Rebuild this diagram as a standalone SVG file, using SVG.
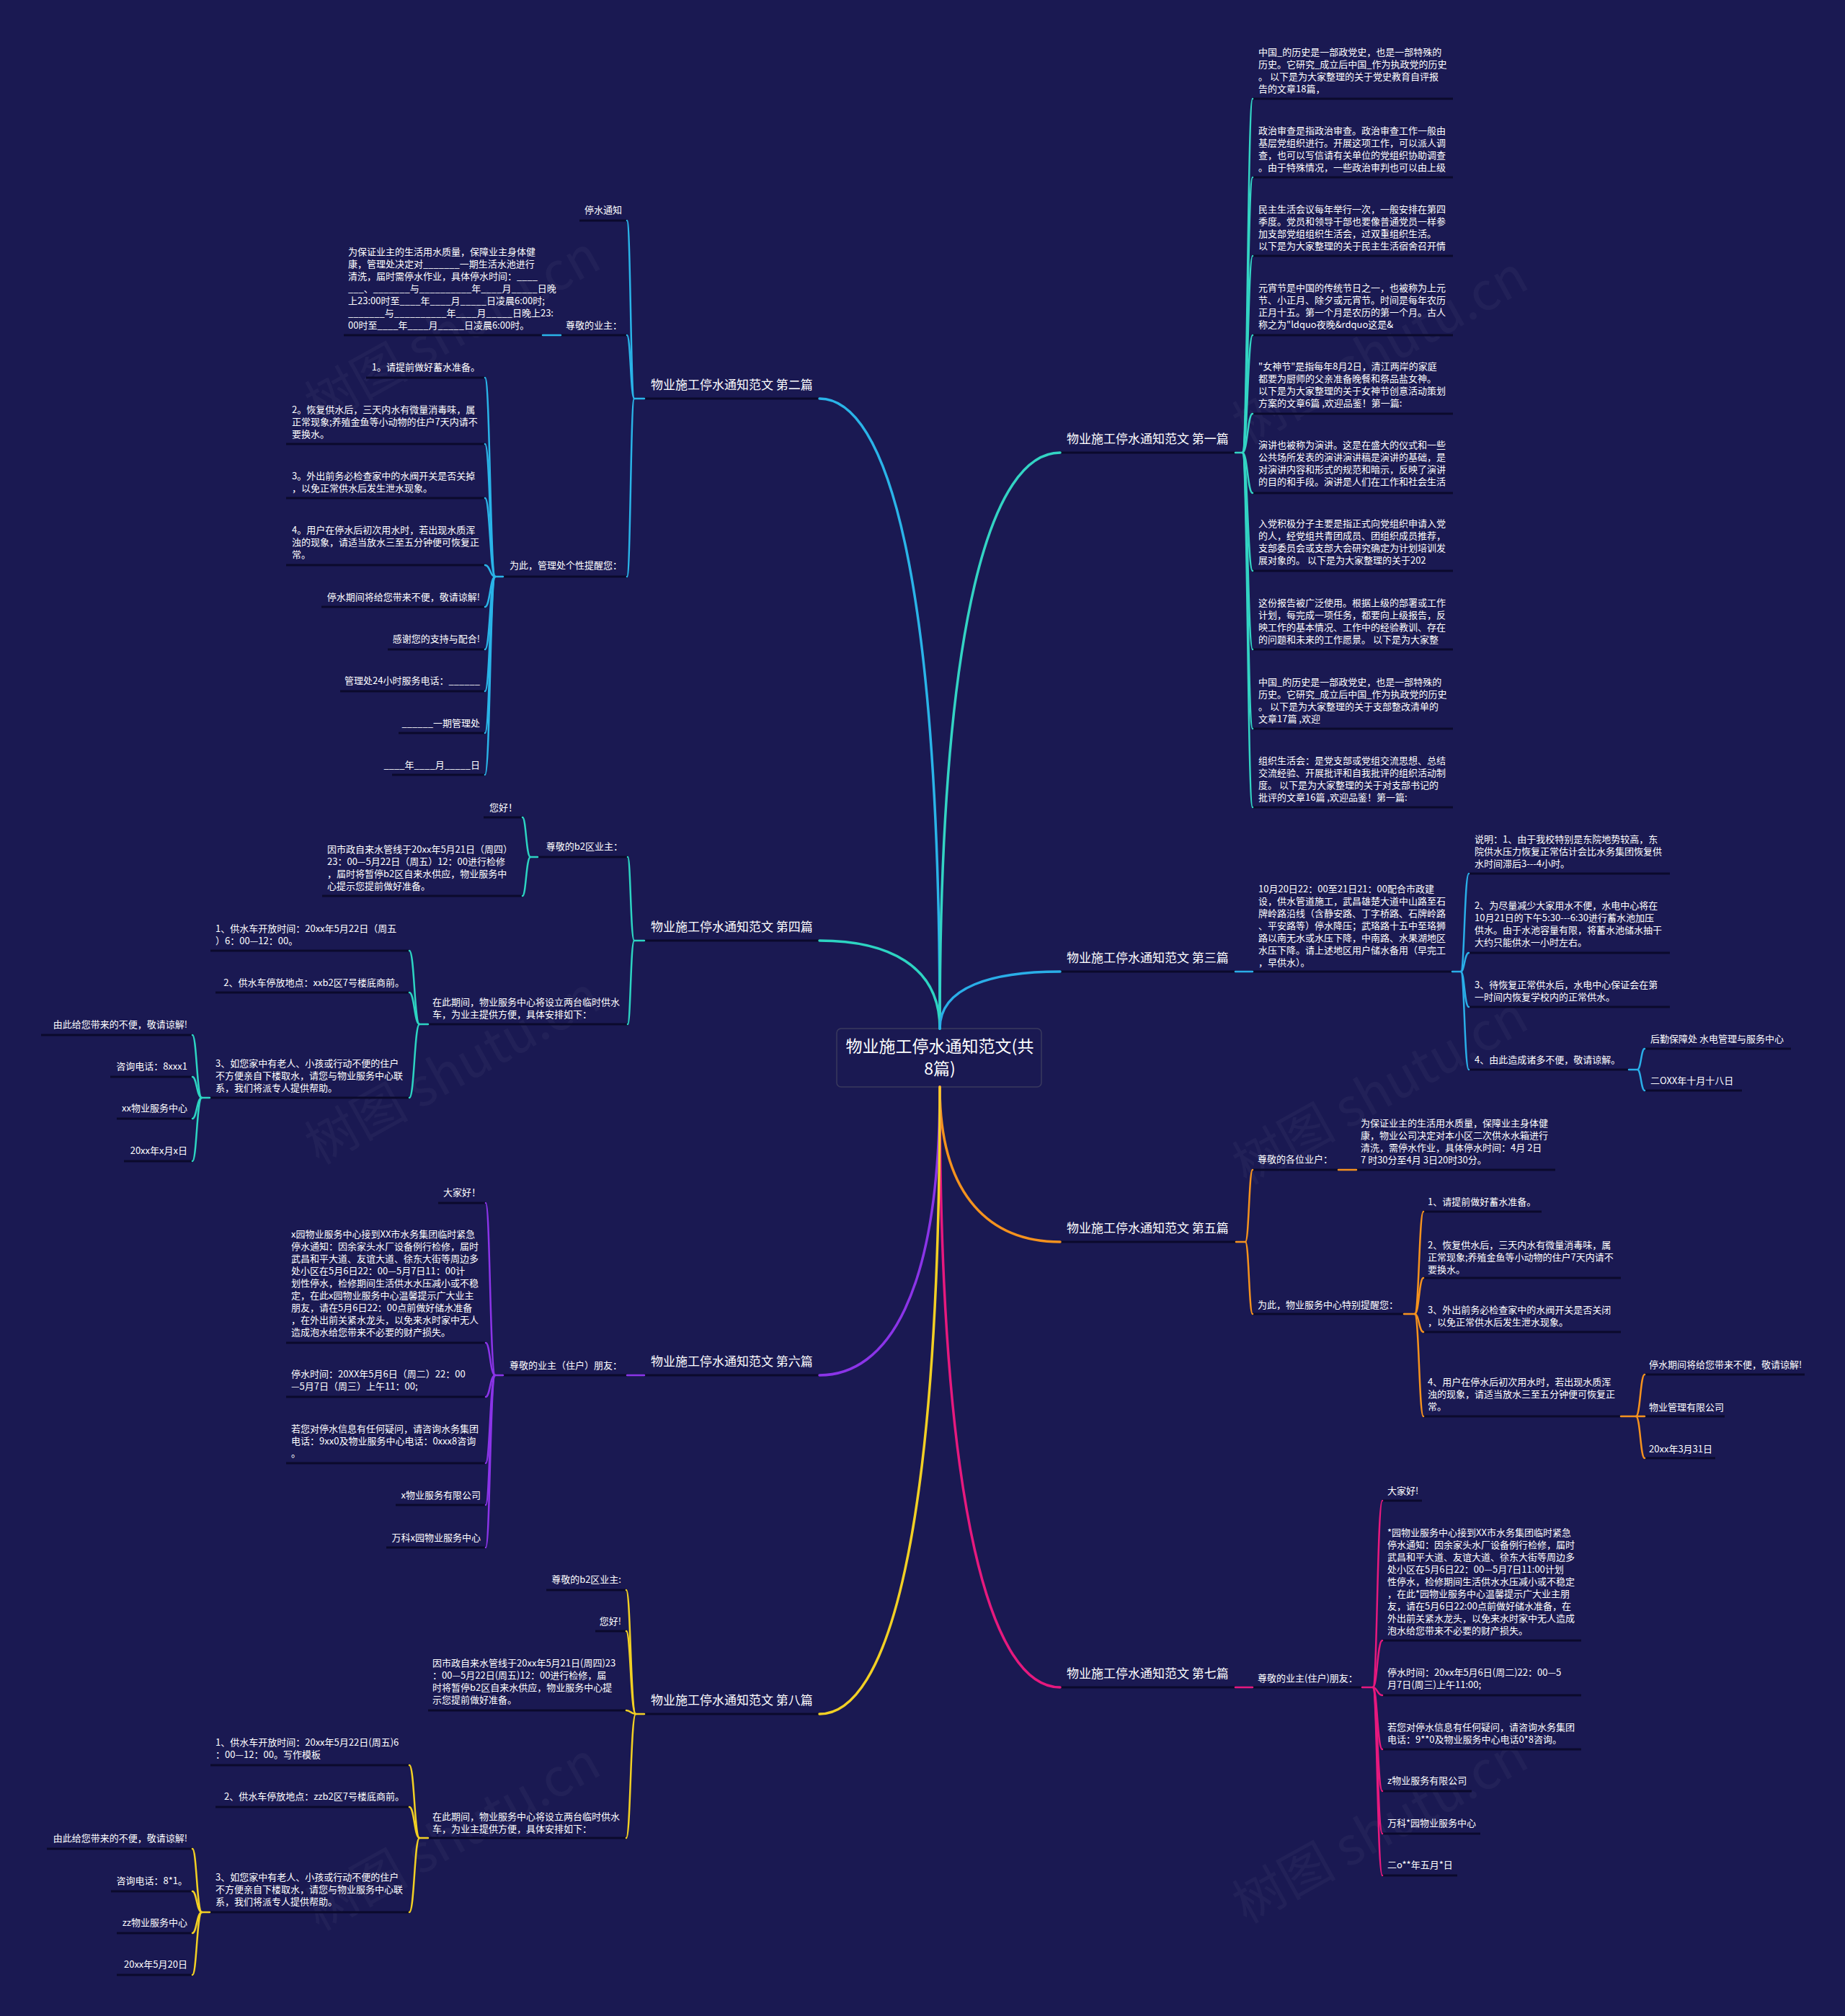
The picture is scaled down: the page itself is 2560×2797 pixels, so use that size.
<svg xmlns="http://www.w3.org/2000/svg" width="2560" height="2797" viewBox="0 0 2560 2797">
<style>
.t{font-family:"Noto Sans CJK SC","Noto Sans",sans-serif;font-size:13px;fill:#ffffff}
.e{text-anchor:end}
.b{font-size:17px}
.r{font-size:23px;text-anchor:middle}
.ul{stroke:#0b0a2c;stroke-width:3;fill:none}
.c{fill:none;stroke-width:2.5;stroke-linecap:round}
.m{stroke-width:3.5}
.wm{font-family:"Noto Sans CJK SC","Noto Sans",sans-serif;font-size:72px;fill:#ffffff;opacity:0.035}
.c1{stroke:#33d4c4}.c2{stroke:#2ab4e8}.c3{stroke:#2aaee8}.c4{stroke:#2dd4c2}
.c5{stroke:#f5921e}.c6{stroke:#8b34e8}.c7{stroke:#e6197e}.c8{stroke:#f2d024}
</style>
<rect width="2560" height="2797" fill="#1a1952"/>
<g id="watermarks">
<text class="wm" transform="translate(640,480) rotate(-29)" text-anchor="middle">树图 shutu.cn</text>
<text class="wm" transform="translate(1927,508) rotate(-29)" text-anchor="middle">树图 shutu.cn</text>
<text class="wm" transform="translate(640,1507) rotate(-29)" text-anchor="middle">树图 shutu.cn</text>
<text class="wm" transform="translate(1927,1535) rotate(-29)" text-anchor="middle">树图 shutu.cn</text>
<text class="wm" transform="translate(640,2570) rotate(-29)" text-anchor="middle">树图 shutu.cn</text>
<text class="wm" transform="translate(1927,2560) rotate(-29)" text-anchor="middle">树图 shutu.cn</text>
</g>

<g id="root">
<rect x="1161" y="1427" width="284" height="81" rx="6" fill="#1a1952" stroke="#3a3a5e" stroke-width="1.5"/>
<text class="t r" x="1304" y="1460">物业施工停水通知范文(共</text>
<text class="t r" x="1304" y="1491">8篇)</text>
</g>

<!-- Branch labels -->
<g id="b1"><line class="ul" x1="1471" y1="628" x2="1714" y2="628"/><text class="t b" x="1480" y="615">物业施工停水通知范文 第一篇</text></g>
<g id="b2"><line class="ul" x1="894" y1="553" x2="1137" y2="553"/><text class="t b" x="903" y="540">物业施工停水通知范文 第二篇</text></g>
<g id="b3"><line class="ul" x1="1471" y1="1348" x2="1714" y2="1348"/><text class="t b" x="1480" y="1335">物业施工停水通知范文 第三篇</text></g>
<g id="b4"><line class="ul" x1="894" y1="1305" x2="1137" y2="1305"/><text class="t b" x="903" y="1292">物业施工停水通知范文 第四篇</text></g>
<g id="b5"><line class="ul" x1="1471" y1="1723" x2="1715" y2="1723"/><text class="t b" x="1480" y="1710">物业施工停水通知范文 第五篇</text></g>
<g id="b6"><line class="ul" x1="894" y1="1908" x2="1137" y2="1908"/><text class="t b" x="903" y="1895">物业施工停水通知范文 第六篇</text></g>
<g id="b7"><line class="ul" x1="1471" y1="2341" x2="1714" y2="2341"/><text class="t b" x="1480" y="2328">物业施工停水通知范文 第七篇</text></g>
<g id="b8"><line class="ul" x1="894" y1="2378" x2="1137" y2="2378"/><text class="t b" x="903" y="2365">物业施工停水通知范文 第八篇</text></g>

<!-- Branch 1 children -->
<g id="b1-1"><line class="ul" x1="1738" y1="137" x2="2016" y2="137"/><text class="t" x="1746" y="77"><tspan x="1746">中国_的历史是一部政党史，也是一部特殊的</tspan><tspan x="1746" dy="17">历史。它研究_成立后中国_作为执政党的历史</tspan><tspan x="1746" dy="17">。 以下是为大家整理的关于党史教育自评报</tspan><tspan x="1746" dy="17">告的文章18篇，</tspan></text></g>
<g id="b1-2"><line class="ul" x1="1738" y1="246" x2="2016" y2="246"/><text class="t" x="1746" y="186"><tspan x="1746">政治审查是指政治审查。政治审查工作一般由</tspan><tspan x="1746" dy="17">基层党组织进行。开展这项工作，可以派人调</tspan><tspan x="1746" dy="17">查，也可以写信请有关单位的党组织协助调查</tspan><tspan x="1746" dy="17">。由于特殊情况，一些政治审判也可以由上级</tspan></text></g>
<g id="b1-3"><line class="ul" x1="1738" y1="355" x2="2016" y2="355"/><text class="t" x="1746" y="295"><tspan x="1746">民主生活会议每年举行一次，一般安排在第四</tspan><tspan x="1746" dy="17">季度。党员和领导干部也要像普通党员一样参</tspan><tspan x="1746" dy="17">加支部党组组织生活会，过双重组织生活。</tspan><tspan x="1746" dy="17">以下是为大家整理的关于民主生活宿舍召开情</tspan></text></g>
<g id="b1-4"><line class="ul" x1="1738" y1="465" x2="2016" y2="465"/><text class="t" x="1746" y="404"><tspan x="1746">元宵节是中国的传统节日之一，也被称为上元</tspan><tspan x="1746" dy="17">节、小正月、除夕或元宵节。时间是每年农历</tspan><tspan x="1746" dy="17">正月十五。第一个月是农历的第一个月。古人</tspan><tspan x="1746" dy="17">称之为"ldquo夜晚&amp;rdquo这是&amp;</tspan></text></g>
<g id="b1-5"><line class="ul" x1="1738" y1="574" x2="2016" y2="574"/><text class="t" x="1746" y="513"><tspan x="1746">"女神节"是指每年8月2日，清江两岸的家庭</tspan><tspan x="1746" dy="17">都要为厨师的父亲准备晚餐和祭品盐女神。</tspan><tspan x="1746" dy="17">以下是为大家整理的关于女神节创意活动策划</tspan><tspan x="1746" dy="17">方案的文章6篇 ,欢迎品鉴！第一篇:</tspan></text></g>
<g id="b1-6"><line class="ul" x1="1738" y1="684" x2="2016" y2="684"/><text class="t" x="1746" y="622"><tspan x="1746">演讲也被称为演讲。这是在盛大的仪式和一些</tspan><tspan x="1746" dy="17">公共场所发表的演讲演讲稿是演讲的基础，是</tspan><tspan x="1746" dy="17">对演讲内容和形式的规范和暗示，反映了演讲</tspan><tspan x="1746" dy="17">的目的和手段。演讲是人们在工作和社会生活</tspan></text></g>
<g id="b1-7"><line class="ul" x1="1738" y1="792" x2="2016" y2="792"/><text class="t" x="1746" y="731"><tspan x="1746">入党积极分子主要是指正式向党组织申请入党</tspan><tspan x="1746" dy="17">的人，经党组共青团成员、团组织成员推荐，</tspan><tspan x="1746" dy="17">支部委员会或支部大会研究确定为计划培训发</tspan><tspan x="1746" dy="17">展对象的。 以下是为大家整理的关于202</tspan></text></g>
<g id="b1-8"><line class="ul" x1="1738" y1="901" x2="2016" y2="901"/><text class="t" x="1746" y="841"><tspan x="1746">这份报告被广泛使用。根据上级的部署或工作</tspan><tspan x="1746" dy="17">计划，每完成一项任务，都要向上级报告，反</tspan><tspan x="1746" dy="17">映工作的基本情况、工作中的经验教训、存在</tspan><tspan x="1746" dy="17">的问题和未来的工作愿景。 以下是为大家整</tspan></text></g>
<g id="b1-9"><line class="ul" x1="1738" y1="1011" x2="2016" y2="1011"/><text class="t" x="1746" y="951"><tspan x="1746">中国_的历史是一部政党史，也是一部特殊的</tspan><tspan x="1746" dy="17">历史。它研究_成立后中国_作为执政党的历史</tspan><tspan x="1746" dy="17">。 以下是为大家整理的关于支部整改清单的</tspan><tspan x="1746" dy="17">文章17篇 ,欢迎</tspan></text></g>
<g id="b1-10"><line class="ul" x1="1738" y1="1120" x2="2016" y2="1120"/><text class="t" x="1746" y="1060"><tspan x="1746">组织生活会：是党支部或党组交流思想、总结</tspan><tspan x="1746" dy="17">交流经验、开展批评和自我批评的组织活动制</tspan><tspan x="1746" dy="17">度。 以下是为大家整理的关于对支部书记的</tspan><tspan x="1746" dy="17">批评的文章16篇 ,欢迎品鉴！第一篇:</tspan></text></g>

<!-- Branch 2 children -->
<g id="b2-1"><line class="ul" x1="804" y1="306" x2="870" y2="306"/><text class="t e" x="863" y="296">停水通知</text></g>
<g id="b2-2"><line class="ul" x1="778" y1="465" x2="870" y2="465"/><text class="t e" x="863" y="456">尊敬的业主：</text></g>
<g id="b2-2-1"><line class="ul" x1="477" y1="465" x2="753" y2="465"/><text class="t" x="483" y="354"><tspan x="483">为保证业主的生活用水质量，保障业主身体健</tspan><tspan x="483" dy="17">康，管理处决定对_______一期生活水池进行</tspan><tspan x="483" dy="17">清洗，届时需停水作业，具体停水时间：____</tspan><tspan x="483" dy="17">___、_______与__________年____月_____日晚</tspan><tspan x="483" dy="17">上23:00时至____年____月_____日凌晨6:00时;</tspan><tspan x="483" dy="17">_______与__________年____月_____日晚上23:</tspan><tspan x="483" dy="17">00时至____年____月_____日凌晨6:00时。</tspan></text></g>
<g id="b2-3"><line class="ul" x1="698" y1="800" x2="870" y2="800"/><text class="t e" x="863" y="789">为此，管理处个性提醒您：</text></g>
<g id="b2-3-1"><line class="ul" x1="508" y1="524" x2="673" y2="524"/><text class="t e" x="666" y="514">1。请提前做好蓄水准备。</text></g>
<g id="b2-3-2"><line class="ul" x1="397" y1="616" x2="673" y2="616"/><text class="t" x="405" y="573"><tspan x="405">2。恢复供水后，三天内水有微量消毒味，属</tspan><tspan x="405" dy="17">正常现象;养殖金鱼等小动物的住户7天内请不</tspan><tspan x="405" dy="17">要换水。</tspan></text></g>
<g id="b2-3-3"><line class="ul" x1="397" y1="691" x2="673" y2="691"/><text class="t" x="405" y="665"><tspan x="405">3。外出前务必检查家中的水阀开关是否关掉</tspan><tspan x="405" dy="17">，以免正常供水后发生泄水现象。</tspan></text></g>
<g id="b2-3-4"><line class="ul" x1="397" y1="784" x2="673" y2="784"/><text class="t" x="405" y="740"><tspan x="405">4。用户在停水后初次用水时，若出现水质浑</tspan><tspan x="405" dy="17">浊的现象，请适当放水三至五分钟便可恢复正</tspan><tspan x="405" dy="17">常。</tspan></text></g>
<g id="b2-3-5"><line class="ul" x1="446" y1="842" x2="673" y2="842"/><text class="t e" x="666" y="833">停水期间将给您带来不便，敬请谅解!</text></g>
<g id="b2-3-6"><line class="ul" x1="538" y1="901" x2="673" y2="901"/><text class="t e" x="666" y="891">感谢您的支持与配合!</text></g>
<g id="b2-3-7"><line class="ul" x1="472" y1="959" x2="673" y2="959"/><text class="t e" x="666" y="949">管理处24小时服务电话：______</text></g>
<g id="b2-3-8"><line class="ul" x1="553" y1="1017" x2="673" y2="1017"/><text class="t e" x="666" y="1008">______一期管理处</text></g>
<g id="b2-3-9"><line class="ul" x1="544" y1="1075" x2="673" y2="1075"/><text class="t e" x="666" y="1066">____年____月_____日</text></g>

<!-- Branch 3 children -->
<g id="b3-1"><line class="ul" x1="1738" y1="1348" x2="2015" y2="1348"/><text class="t" x="1746" y="1238"><tspan x="1746">10月20日22：00至21日21：00配合市政建</tspan><tspan x="1746" dy="17">设，供水管道施工，武昌雄楚大道中山路至石</tspan><tspan x="1746" dy="17">牌岭路沿线（含静安路、丁字桥路、石牌岭路</tspan><tspan x="1746" dy="17">、平安路等）停水降压；武珞路十五中至珞狮</tspan><tspan x="1746" dy="17">路以南无水或水压下降，中南路、水果湖地区</tspan><tspan x="1746" dy="17">水压下降。请上述地区用户储水备用（早完工</tspan><tspan x="1746" dy="17">，早供水）。</tspan></text></g>
<g id="b3-1-1"><line class="ul" x1="2038" y1="1212" x2="2317" y2="1212"/><text class="t" x="2046" y="1169"><tspan x="2046">说明：1、由于我校特别是东院地势较高，东</tspan><tspan x="2046" dy="17">院供水压力恢复正常估计会比水务集团恢复供</tspan><tspan x="2046" dy="17">水时间滞后3---4小时。</tspan></text></g>
<g id="b3-1-2"><line class="ul" x1="2038" y1="1322" x2="2317" y2="1322"/><text class="t" x="2046" y="1261"><tspan x="2046">2、为尽量减少大家用水不便，水电中心将在</tspan><tspan x="2046" dy="17">10月21日的下午5:30---6:30进行蓄水池加压</tspan><tspan x="2046" dy="17">供水。由于水池容量有限，将蓄水池储水抽干</tspan><tspan x="2046" dy="17">大约只能供水一小时左右。</tspan></text></g>
<g id="b3-1-3"><line class="ul" x1="2038" y1="1397" x2="2317" y2="1397"/><text class="t" x="2046" y="1371"><tspan x="2046">3、待恢复正常供水后，水电中心保证会在第</tspan><tspan x="2046" dy="17">一时间内恢复学校内的正常供水。</tspan></text></g>
<g id="b3-1-4"><line class="ul" x1="2038" y1="1484" x2="2260" y2="1484"/><text class="t" x="2046" y="1475">4、由此造成诸多不便，敬请谅解。</text></g>
<g id="b3-1-4-1"><line class="ul" x1="2282" y1="1455" x2="2485" y2="1455"/><text class="t" x="2290" y="1446">后勤保障处 水电管理与服务中心</text></g>
<g id="b3-1-4-2"><line class="ul" x1="2282" y1="1513" x2="2417" y2="1513"/><text class="t" x="2290" y="1504">二OXX年十月十八日</text></g>

<!-- Branch 4 children -->
<g id="b4-1"><line class="ul" x1="746" y1="1189" x2="871" y2="1189"/><text class="t e" x="864" y="1179">尊敬的b2区业主：</text></g>
<g id="b4-1-1"><line class="ul" x1="671" y1="1134" x2="725" y2="1134"/><text class="t e" x="718" y="1125">您好！</text></g>
<g id="b4-1-2"><line class="ul" x1="447" y1="1243" x2="725" y2="1243"/><text class="t" x="454" y="1183"><tspan x="454">因市政自来水管线于20xx年5月21日（周四）</tspan><tspan x="454" dy="17">23：00—5月22日（周五）12：00进行检修</tspan><tspan x="454" dy="17">，届时将暂停b2区自来水供应，物业服务中</tspan><tspan x="454" dy="17">心提示您提前做好准备。</tspan></text></g>
<g id="b4-2"><line class="ul" x1="594" y1="1421" x2="871" y2="1421"/><text class="t" x="600" y="1395"><tspan x="600">在此期间，物业服务中心将设立两台临时供水</tspan><tspan x="600" dy="17">车，为业主提供方便，具体安排如下：</tspan></text></g>
<g id="b4-2-1"><line class="ul" x1="292" y1="1319" x2="568" y2="1319"/><text class="t" x="299" y="1293"><tspan x="299">1、供水车开放时间：20xx年5月22日（周五</tspan><tspan x="299" dy="17">）6：00—12：00。</tspan></text></g>
<g id="b4-2-2"><line class="ul" x1="299" y1="1377" x2="568" y2="1377"/><text class="t e" x="561" y="1368">2、供水车停放地点：xxb2区7号楼底商前。</text></g>
<g id="b4-2-3"><line class="ul" x1="291" y1="1523" x2="568" y2="1523"/><text class="t" x="299" y="1480"><tspan x="299">3、如您家中有老人、小孩或行动不便的住户</tspan><tspan x="299" dy="17">不方便亲自下楼取水，请您与物业服务中心联</tspan><tspan x="299" dy="17">系，我们将派专人提供帮助。</tspan></text></g>
<g id="b4-2-3-1"><line class="ul" x1="57" y1="1436" x2="267" y2="1436"/><text class="t e" x="260" y="1426">由此给您带来的不便，敬请谅解!</text></g>
<g id="b4-2-3-2"><line class="ul" x1="153" y1="1494" x2="267" y2="1494"/><text class="t e" x="260" y="1484">咨询电话：8xxx1</text></g>
<g id="b4-2-3-3"><line class="ul" x1="162" y1="1552" x2="267" y2="1552"/><text class="t e" x="260" y="1542">xx物业服务中心</text></g>
<g id="b4-2-3-4"><line class="ul" x1="172" y1="1611" x2="267" y2="1611"/><text class="t e" x="260" y="1601">20xx年x月x日</text></g>

<!-- Branch 5 children -->
<g id="b5-1"><line class="ul" x1="1738" y1="1623" x2="1857" y2="1623"/><text class="t" x="1745" y="1613">尊敬的各位业户：</text></g>
<g id="b5-1-1"><line class="ul" x1="1882" y1="1623" x2="2158" y2="1623"/><text class="t" x="1888" y="1563"><tspan x="1888">为保证业主的生活用水质量，保障业主身体健</tspan><tspan x="1888" dy="17">康，物业公司决定对本小区二次供水水箱进行</tspan><tspan x="1888" dy="17">清洗，需停水作业，具体停水时间：4月 2日</tspan><tspan x="1888" dy="17">7 时30分至4月 3日20时30分。</tspan></text></g>
<g id="b5-2"><line class="ul" x1="1738" y1="1823" x2="1948" y2="1823"/><text class="t" x="1745" y="1815">为此，物业服务中心特别提醒您：</text></g>
<g id="b5-2-1"><line class="ul" x1="1975" y1="1681" x2="2139" y2="1681"/><text class="t" x="1981" y="1672">1、请提前做好蓄水准备。</text></g>
<g id="b5-2-2"><line class="ul" x1="1975" y1="1773" x2="2249" y2="1773"/><text class="t" x="1981" y="1732"><tspan x="1981">2、恢复供水后，三天内水有微量消毒味，属</tspan><tspan x="1981" dy="17">正常现象;养殖金鱼等小动物的住户7天内请不</tspan><tspan x="1981" dy="17">要换水。</tspan></text></g>
<g id="b5-2-3"><line class="ul" x1="1975" y1="1848" x2="2249" y2="1848"/><text class="t" x="1981" y="1822"><tspan x="1981">3、外出前务必检查家中的水阀开关是否关闭</tspan><tspan x="1981" dy="17">，以免正常供水后发生泄水现象。</tspan></text></g>
<g id="b5-2-4"><line class="ul" x1="1975" y1="1965" x2="2249" y2="1965"/><text class="t" x="1981" y="1922"><tspan x="1981">4、用户在停水后初次用水时，若出现水质浑</tspan><tspan x="1981" dy="17">浊的现象，请适当放水三至五分钟便可恢复正</tspan><tspan x="1981" dy="17">常。</tspan></text></g>
<g id="b5-2-4-1"><line class="ul" x1="2282" y1="1907" x2="2504" y2="1907"/><text class="t" x="2288" y="1898">停水期间将给您带来不便，敬请谅解!</text></g>
<g id="b5-2-4-2"><line class="ul" x1="2282" y1="1965" x2="2393" y2="1965"/><text class="t" x="2288" y="1957">物业管理有限公司</text></g>
<g id="b5-2-4-3"><line class="ul" x1="2282" y1="2023" x2="2380" y2="2023"/><text class="t" x="2288" y="2015">20xx年3月31日</text></g>

<!-- Branch 6 children -->
<g id="b6-1"><line class="ul" x1="698" y1="1908" x2="870" y2="1908"/><text class="t e" x="863" y="1899">尊敬的业主（住户）朋友：</text></g>
<g id="b6-1-1"><line class="ul" x1="608" y1="1669" x2="674" y2="1669"/><text class="t e" x="667" y="1659">大家好！</text></g>
<g id="b6-1-2"><line class="ul" x1="397" y1="1863" x2="674" y2="1863"/><text class="t" x="404" y="1717"><tspan x="404">x园物业服务中心接到XX市水务集团临时紧急</tspan><tspan x="404" dy="17">停水通知：因余家头水厂设备例行检修，届时</tspan><tspan x="404" dy="17">武昌和平大道、友谊大道、徐东大街等周边多</tspan><tspan x="404" dy="17">处小区在5月6日22：00—5月7日11：00计</tspan><tspan x="404" dy="17">划性停水，检修期间生活供水水压减小或不稳</tspan><tspan x="404" dy="17">定，在此x园物业服务中心温馨提示广大业主</tspan><tspan x="404" dy="17">朋友，请在5月6日22：00点前做好储水准备</tspan><tspan x="404" dy="17">，在外出前关紧水龙头，以免来水时家中无人</tspan><tspan x="404" dy="17">造成泡水给您带来不必要的财产损失。</tspan></text></g>
<g id="b6-1-3"><line class="ul" x1="397" y1="1938" x2="674" y2="1938"/><text class="t" x="404" y="1911"><tspan x="404">停水时间：20XX年5月6日（周二）22：00</tspan><tspan x="404" dy="17">—5月7日（周三）上午11：00;</tspan></text></g>
<g id="b6-1-4"><line class="ul" x1="397" y1="2030" x2="674" y2="2030"/><text class="t" x="404" y="1987"><tspan x="404">若您对停水信息有任何疑问，请咨询水务集团</tspan><tspan x="404" dy="17">电话：9xx0及物业服务中心电话：0xxx8咨询</tspan><tspan x="404" dy="17">。</tspan></text></g>
<g id="b6-1-5"><line class="ul" x1="549" y1="2088" x2="674" y2="2088"/><text class="t e" x="667" y="2079">x物业服务有限公司</text></g>
<g id="b6-1-6"><line class="ul" x1="536" y1="2147" x2="674" y2="2147"/><text class="t e" x="667" y="2138">万科x园物业服务中心</text></g>

<!-- Branch 7 children -->
<g id="b7-1"><line class="ul" x1="1738" y1="2341" x2="1890" y2="2341"/><text class="t" x="1745" y="2333">尊敬的业主(住户)朋友：</text></g>
<g id="b7-1-1"><line class="ul" x1="1918" y1="2082" x2="1973" y2="2082"/><text class="t" x="1925" y="2073">大家好!</text></g>
<g id="b7-1-2"><line class="ul" x1="1918" y1="2276" x2="2194" y2="2276"/><text class="t" x="1925" y="2131"><tspan x="1925">*园物业服务中心接到XX市水务集团临时紧急</tspan><tspan x="1925" dy="17">停水通知：因余家头水厂设备例行检修，届时</tspan><tspan x="1925" dy="17">武昌和平大道、友谊大道、徐东大街等周边多</tspan><tspan x="1925" dy="17">处小区在5月6日22：00—5月7日11:00计划</tspan><tspan x="1925" dy="17">性停水，检修期间生活供水水压减小或不稳定</tspan><tspan x="1925" dy="17">，在此*园物业服务中心温馨提示广大业主朋</tspan><tspan x="1925" dy="17">友，请在5月6日22:00点前做好储水准备，在</tspan><tspan x="1925" dy="17">外出前关紧水龙头，以免来水时家中无人造成</tspan><tspan x="1925" dy="17">泡水给您带来不必要的财产损失。</tspan></text></g>
<g id="b7-1-3"><line class="ul" x1="1918" y1="2352" x2="2194" y2="2352"/><text class="t" x="1925" y="2325"><tspan x="1925">停水时间：20xx年5月6日(周二)22：00—5</tspan><tspan x="1925" dy="17">月7日(周三)上午11:00;</tspan></text></g>
<g id="b7-1-4"><line class="ul" x1="1918" y1="2427" x2="2194" y2="2427"/><text class="t" x="1925" y="2401"><tspan x="1925">若您对停水信息有任何疑问，请咨询水务集团</tspan><tspan x="1925" dy="17">电话：9**0及物业服务中心电话0*8咨询。</tspan></text></g>
<g id="b7-1-5"><line class="ul" x1="1918" y1="2485" x2="2042" y2="2485"/><text class="t" x="1925" y="2475">z物业服务有限公司</text></g>
<g id="b7-1-6"><line class="ul" x1="1918" y1="2544" x2="2054" y2="2544"/><text class="t" x="1925" y="2534">万科*园物业服务中心</text></g>
<g id="b7-1-7"><line class="ul" x1="1918" y1="2602" x2="2022" y2="2602"/><text class="t" x="1925" y="2592">二o**年五月*日</text></g>

<!-- Branch 8 children -->
<g id="b8-1"><line class="ul" x1="758" y1="2206" x2="869" y2="2206"/><text class="t e" x="862" y="2196">尊敬的b2区业主:</text></g>
<g id="b8-2"><line class="ul" x1="826" y1="2263" x2="869" y2="2263"/><text class="t e" x="862" y="2254">您好!</text></g>
<g id="b8-3"><line class="ul" x1="594" y1="2373" x2="869" y2="2373"/><text class="t" x="600" y="2312"><tspan x="600">因市政自来水管线于20xx年5月21日(周四)23</tspan><tspan x="600" dy="17">：00—5月22日(周五)12：00进行检修，届</tspan><tspan x="600" dy="17">时将暂停b2区自来水供应，物业服务中心提</tspan><tspan x="600" dy="17">示您提前做好准备。</tspan></text></g>
<g id="b8-4"><line class="ul" x1="594" y1="2550" x2="869" y2="2550"/><text class="t" x="600" y="2525"><tspan x="600">在此期间，物业服务中心将设立两台临时供水</tspan><tspan x="600" dy="17">车，为业主提供方便，具体安排如下：</tspan></text></g>
<g id="b8-4-1"><line class="ul" x1="292" y1="2449" x2="568" y2="2449"/><text class="t" x="299" y="2422"><tspan x="299">1、供水车开放时间：20xx年5月22日(周五)6</tspan><tspan x="299" dy="17">：00—12：00。写作模板</tspan></text></g>
<g id="b8-4-2"><line class="ul" x1="299" y1="2507" x2="568" y2="2507"/><text class="t e" x="561" y="2497">2、供水车停放地点：zzb2区7号楼底商前。</text></g>
<g id="b8-4-3"><line class="ul" x1="291" y1="2653" x2="568" y2="2653"/><text class="t" x="299" y="2609"><tspan x="299">3、如您家中有老人、小孩或行动不便的住户</tspan><tspan x="299" dy="17">不方便亲自下楼取水，请您与物业服务中心联</tspan><tspan x="299" dy="17">系，我们将派专人提供帮助。</tspan></text></g>
<g id="b8-4-3-1"><line class="ul" x1="65" y1="2565" x2="267" y2="2565"/><text class="t e" x="260" y="2555">由此给您带来的不便，敬请谅解!</text></g>
<g id="b8-4-3-2"><line class="ul" x1="154" y1="2624" x2="267" y2="2624"/><text class="t e" x="260" y="2614">咨询电话：8*1。</text></g>
<g id="b8-4-3-3"><line class="ul" x1="162" y1="2682" x2="267" y2="2682"/><text class="t e" x="260" y="2672">zz物业服务中心</text></g>
<g id="b8-4-3-4"><line class="ul" x1="162" y1="2740" x2="267" y2="2740"/><text class="t e" x="260" y="2730">20xx年5月20日</text></g>

<g id="connectors">
<!-- main -->
<path class="c m c2" d="M1304,1427 C1304,798 1231,553 1137,553"/>
<path class="c m c1" d="M1304,1427 C1304,852 1377,628 1471,628"/>
<path class="c m c4" d="M1304,1427 C1304,1339 1231,1305 1137,1305"/>
<path class="c m c3" d="M1304,1427 C1304,1369 1377,1348 1471,1348"/>
<path class="c m c5" d="M1304,1508 C1304,1663 1377,1723 1471,1723"/>
<path class="c m c6" d="M1304,1508 C1304,1796 1231,1908 1137,1908"/>
<path class="c m c7" d="M1304,1508 C1304,2108 1377,2341 1471,2341"/>
<path class="c m c8" d="M1304,1508 C1304,2134 1231,2378 1137,2378"/>
<!-- branch 1 -->
<path class="c c1" d="M1714,628 L1724,628 C1731,628 1731,137 1738,137"/>
<path class="c c1" d="M1724,628 C1731,628 1731,246 1738,246"/>
<path class="c c1" d="M1724,628 C1731,628 1731,355 1738,355"/>
<path class="c c1" d="M1724,628 C1731,628 1731,465 1738,465"/>
<path class="c c1" d="M1724,628 C1731,628 1731,574 1738,574"/>
<path class="c c1" d="M1724,628 C1731,628 1731,684 1738,684"/>
<path class="c c1" d="M1724,628 C1731,628 1731,792 1738,792"/>
<path class="c c1" d="M1724,628 C1731,628 1731,901 1738,901"/>
<path class="c c1" d="M1724,628 C1731,628 1731,1011 1738,1011"/>
<path class="c c1" d="M1724,628 C1731,628 1731,1120 1738,1120"/>
<!-- branch 2 -->
<path class="c c2" d="M894,553 L880,553 C875,553 875,306 870,306"/>
<path class="c c2" d="M880,553 C875,553 875,465 870,465"/>
<path class="c c2" d="M880,553 C875,553 875,800 870,800"/>
<path class="c c2" d="M778,465 L753,465"/>
<path class="c c2" d="M698,800 L687,800 C680,800 680,524 673,524"/>
<path class="c c2" d="M687,800 C680,800 680,616 673,616"/>
<path class="c c2" d="M687,800 C680,800 680,691 673,691"/>
<path class="c c2" d="M687,800 C680,800 680,784 673,784"/>
<path class="c c2" d="M687,800 C680,800 680,842 673,842"/>
<path class="c c2" d="M687,800 C680,800 680,901 673,901"/>
<path class="c c2" d="M687,800 C680,800 680,959 673,959"/>
<path class="c c2" d="M687,800 C680,800 680,1017 673,1017"/>
<path class="c c2" d="M687,800 C680,800 680,1075 673,1075"/>
<!-- branch 3 -->
<path class="c c3" d="M1714,1348 L1738,1348"/>
<path class="c c3" d="M2015,1348 L2027,1348 C2032,1348 2032,1212 2038,1212"/>
<path class="c c3" d="M2027,1348 C2032,1348 2032,1322 2038,1322"/>
<path class="c c3" d="M2027,1348 C2032,1348 2032,1397 2038,1397"/>
<path class="c c3" d="M2027,1348 C2032,1348 2032,1484 2038,1484"/>
<path class="c c3" d="M2260,1484 L2272,1484 C2277,1484 2277,1455 2282,1455"/>
<path class="c c3" d="M2272,1484 C2277,1484 2277,1513 2282,1513"/>
<!-- branch 4 -->
<path class="c c4" d="M894,1305 L880,1305 C875,1305 875,1189 871,1189"/>
<path class="c c4" d="M880,1305 C875,1305 875,1421 871,1421"/>
<path class="c c4" d="M746,1189 L736,1189 C730,1189 730,1134 725,1134"/>
<path class="c c4" d="M736,1189 C730,1189 730,1243 725,1243"/>
<path class="c c4" d="M594,1421 L582,1421 C575,1421 575,1319 568,1319"/>
<path class="c c4" d="M582,1421 C575,1421 575,1377 568,1377"/>
<path class="c c4" d="M582,1421 C575,1421 575,1523 568,1523"/>
<path class="c c4" d="M291,1523 L280,1523 C273,1523 273,1436 267,1436"/>
<path class="c c4" d="M280,1523 C273,1523 273,1494 267,1494"/>
<path class="c c4" d="M280,1523 C273,1523 273,1552 267,1552"/>
<path class="c c4" d="M280,1523 C273,1523 273,1611 267,1611"/>
<!-- branch 5 -->
<path class="c c5" d="M1715,1723 L1728,1723 C1733,1723 1733,1623 1738,1623"/>
<path class="c c5" d="M1728,1723 C1733,1723 1733,1823 1738,1823"/>
<path class="c c5" d="M1857,1623 L1882,1623"/>
<path class="c c5" d="M1948,1823 L1963,1823 C1969,1823 1969,1681 1975,1681"/>
<path class="c c5" d="M1963,1823 C1969,1823 1969,1773 1975,1773"/>
<path class="c c5" d="M1963,1823 C1969,1823 1969,1848 1975,1848"/>
<path class="c c5" d="M1963,1823 C1969,1823 1969,1965 1975,1965"/>
<path class="c c5" d="M2249,1965 L2270,1965 C2276,1965 2276,1907 2282,1907"/>
<path class="c c5" d="M2270,1965 L2282,1965"/>
<path class="c c5" d="M2270,1965 C2276,1965 2276,2023 2282,2023"/>
<!-- branch 6 -->
<path class="c c6" d="M894,1908 L870,1908"/>
<path class="c c6" d="M698,1908 L687,1908 C680,1908 680,1669 674,1669"/>
<path class="c c6" d="M687,1908 C680,1908 680,1863 674,1863"/>
<path class="c c6" d="M687,1908 C680,1908 680,1938 674,1938"/>
<path class="c c6" d="M687,1908 C680,1908 680,2030 674,2030"/>
<path class="c c6" d="M687,1908 C680,1908 680,2088 674,2088"/>
<path class="c c6" d="M687,1908 C680,1908 680,2147 674,2147"/>
<!-- branch 7 -->
<path class="c c7" d="M1714,2341 L1738,2341"/>
<path class="c c7" d="M1890,2341 L1905,2341 C1911,2341 1911,2082 1918,2082"/>
<path class="c c7" d="M1905,2341 C1911,2341 1911,2276 1918,2276"/>
<path class="c c7" d="M1905,2341 C1911,2341 1911,2352 1918,2352"/>
<path class="c c7" d="M1905,2341 C1911,2341 1911,2427 1918,2427"/>
<path class="c c7" d="M1905,2341 C1911,2341 1911,2485 1918,2485"/>
<path class="c c7" d="M1905,2341 C1911,2341 1911,2544 1918,2544"/>
<path class="c c7" d="M1905,2341 C1911,2341 1911,2602 1918,2602"/>
<!-- branch 8 -->
<path class="c c8" d="M894,2378 L882,2378 C875,2378 875,2206 869,2206"/>
<path class="c c8" d="M882,2378 C875,2378 875,2263 869,2263"/>
<path class="c c8" d="M882,2378 C875,2378 875,2373 869,2373"/>
<path class="c c8" d="M882,2378 C875,2378 875,2550 869,2550"/>
<path class="c c8" d="M594,2550 L582,2550 C575,2550 575,2449 568,2449"/>
<path class="c c8" d="M582,2550 C575,2550 575,2507 568,2507"/>
<path class="c c8" d="M582,2550 C575,2550 575,2653 568,2653"/>
<path class="c c8" d="M291,2653 L280,2653 C273,2653 273,2565 267,2565"/>
<path class="c c8" d="M280,2653 C273,2653 273,2624 267,2624"/>
<path class="c c8" d="M280,2653 C273,2653 273,2682 267,2682"/>
<path class="c c8" d="M280,2653 C273,2653 273,2740 267,2740"/>
</g>
</svg>
